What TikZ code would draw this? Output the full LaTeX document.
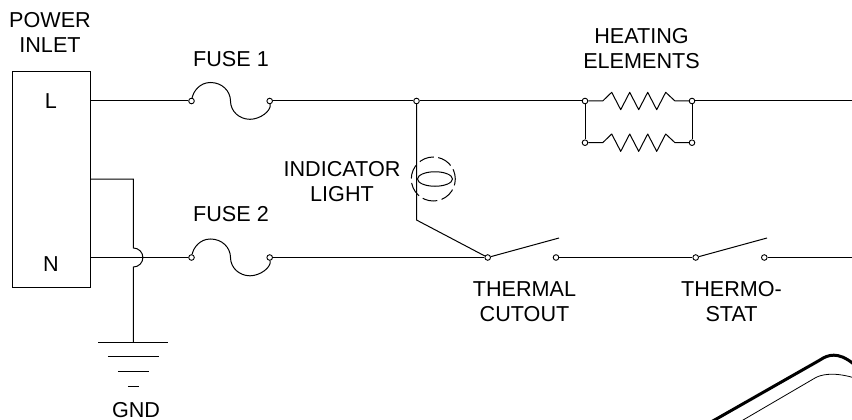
\documentclass[tikz,border=0pt]{standalone}
\usepackage{fontspec}
\setmainfont{Liberation Sans}
\usetikzlibrary{shapes.geometric}
\tikzset{
	wire/.style={line width=1pt},
	terminal/.style={draw,circle,fill=white,inner sep=0pt,minimum size=5.6pt,line width=0.9pt},
	caption/.style={align=center,inner sep=0pt,font=\fontsize{21.6}{25}\selectfont}
}
\begin{document}
\begin{tikzpicture}[x=1pt,y=-1pt,wire]
	\useasboundingbox (0,0) rectangle (852,420);
	\clip (0,0) rectangle (852,420); % the device outline runs off the page
	
	\def\ya{101};
	\def\yb{257.5};
	\def\xg{133.4};
	
	\node[draw,wire,minimum width=78.5pt,minimum height=215.5pt,inner sep=0pt] (inlet) at (51.25,179.25) {};
	\node[caption] (lineL) at (51,101) {L};
	\node[caption] (lineN) at (51,264) {N};
	
	% terminals on both rails
	\foreach \n/\x/\y in {fuseLa/191.5/\ya,fuseRa/269.7/\ya,tap/416.5/\ya,heatLa/585/\ya,heatRa/692/\ya,
		heatLb/585/142.7,heatRb/692/142.7,fuseLb/191.5/\yb,fuseRb/269.7/\yb,cutL/487.7/\yb,cutR/556/\yb,
		statL/695.7/\yb,statR/764.3/\yb}{%
		\node[terminal] (\n) at (\x,\y) {};
	}
	
	\coordinate (railA) at (852,\ya);
	\coordinate (railB) at (852,\yb);
	\coordinate (tapEnd) at (416.5,220);
	\coordinate (cutArm) at (559,238);
	\coordinate (statArm) at (767,238);
	
	\draw (inlet.east |- fuseLa) -- (fuseLa);
	\draw (inlet.east |- fuseLb) -- (fuseLb);
	\draw (fuseRa) -- (tap) -- (heatLa);
	\draw (heatRa) -- (railA);
	\draw (fuseRb) -- (cutL);
	\draw (cutR) -- (statL);
	\draw (statR) -- (railB);
	\draw (tap) -- (tapEnd) -- (cutL);
	\draw (cutL) -- (cutArm);
	\draw (statL) -- (statArm);
	\draw (heatLa) -- (heatLb);
	\draw (heatRa) -- (heatRb);
	
	% fuses
	\foreach \n in {a,b}{%
		\draw (fuseL\n) .. controls +(2,-10) and +(-10.5,0) .. ++(19,-18.5)
			.. controls +(11.5,0) and +(0,-10) .. ++(20,18.5)
			.. controls +(0,10) and +(-11,0) .. ++(19.5,18.3)
			.. controls +(10,0) and +(1.7,10) .. (fuseR\n);
	}
	
	% heating elements
	\foreach \n/\y in {a/\ya,b/142.7}{%
		\draw[line join=round] (heatL\n) -- (602.7,\y) -- ++(9,-8.7)
			-- ++(9,17.4) -- ++(9,-17.4) -- ++(9,17.4) -- ++(9,-17.4) -- ++(9,17.4) -- ++(9,-17.4)
			-- (675,\y) -- (heatR\n);
	}
	
	% indicator light
	\node[draw,wire,circle,minimum size=44pt,inner sep=0pt,dash pattern=on 15pt off 4.5pt,dash phase=5pt] (lampGlass) at (433.3,179) {};
	\node[draw,wire,ellipse,minimum width=35pt,minimum height=14.5pt,inner sep=0pt] (lampCore) at (435,179) {};
	
	% earth lead, hops over the N wire
	\coordinate (gndA) at (inlet.east |- 0,179);
	\coordinate (gndB) at (\xg,179);
	\coordinate (gndC) at (\xg,248);
	\coordinate (gndE) at (\xg,342);
	\draw (gndA) -- (gndB) -- (gndC) arc[start angle=90,end angle=-90,radius=9.5pt] -- (gndE);
	\foreach \y/\w in {342/35,356.5/25.5,371/15.5,386/5.5}{%
		\draw (\xg-\w,\y) -- (\xg+\w,\y);
	}
	
	\node[caption] (powerLabel) at (50,32.7) {POWER\\INLET};
	\node[caption] (fuseAlabel) at (231,59) {FUSE 1};
	\node[caption] (fuseBlabel) at (231,214.5) {FUSE 2};
	\node[caption] (lampLabel) at (342,181.3) {INDICATOR\\LIGHT};
	\node[caption] (heatLabel) at (641.5,48.2) {HEATING\\ELEMENTS};
	\node[caption] (cutLabel) at (524.5,302) {THERMAL\\CUTOUT};
	\node[caption] (statLabel) at (731.5,302) {THERMO-\\STAT};
	\node[caption] (gndLabel) at (136,410) {GND};
	
	% corner of the device, cut by the page
	\draw[line width=3pt] (697,430) -- (820,360) .. controls (828,354.5) and (838,351.5) .. (853,363.5);
	\draw[line width=0.8pt] (726,430) -- (815,378) .. controls (820,375) and (832,371.5) .. (853,377.5);
\end{tikzpicture}
\end{document}
